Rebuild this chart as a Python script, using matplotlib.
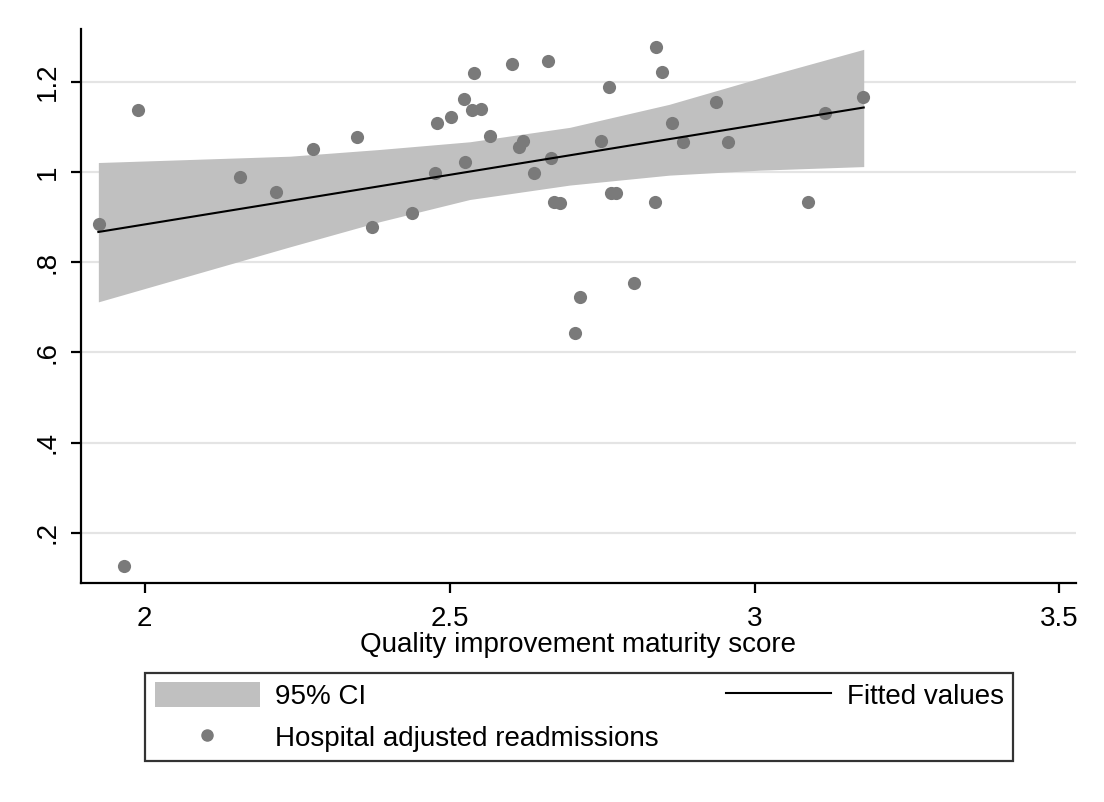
import numpy as np
import matplotlib
matplotlib.use('Agg')
import matplotlib.pyplot as plt
from matplotlib.patches import Patch
from matplotlib.lines import Line2D

plt.rcParams['font.family'] = ['Liberation Sans', 'DejaVu Sans']

# hospital scores
qi_score = [1.925, 1.966, 1.989, 2.157, 2.216, 2.276, 2.348, 2.372, 2.438, 2.476,
            2.480, 2.502, 2.523, 2.525, 2.537, 2.540, 2.551, 2.566, 2.602, 2.613,
            2.621, 2.639, 2.661, 2.667, 2.671, 2.681, 2.706, 2.714, 2.748, 2.762,
            2.765, 2.773, 2.803, 2.836, 2.838, 2.848, 2.864, 2.882, 2.937, 2.957,
            3.087, 3.115, 3.177]
readmit = [0.884, 0.127, 1.137, 0.990, 0.956, 1.051, 1.078, 0.878, 0.908, 0.998,
           1.109, 1.122, 1.162, 1.023, 1.137, 1.219, 1.139, 1.080, 1.240, 1.056,
           1.068, 0.998, 1.247, 1.032, 0.934, 0.932, 0.643, 0.723, 1.068, 1.189,
           0.954, 0.954, 0.754, 0.933, 1.278, 1.222, 1.108, 1.067, 1.156, 1.067,
           0.934, 1.130, 1.167]

# fitted line and 95% CI band
fit_x = [1.924, 3.179]
fit_y = [0.867, 1.143]
ci_x = [1.924, 2.238, 2.386, 2.533, 2.697, 2.860, 3.008, 3.179]
ci_hi = [1.021, 1.035, 1.050, 1.067, 1.099, 1.150, 1.208, 1.272]
ci_lo = [0.712, 0.834, 0.890, 0.939, 0.971, 0.993, 1.004, 1.012]

xticks = [2, 2.5, 3, 3.5]
xticklabels = ['2', '2.5', '3', '3.5']
yticks = [0.2, 0.4, 0.6, 0.8, 1.0, 1.2]
yticklabels = ['.2', '.4', '.6', '.8', '1', '1.2']

fig = plt.figure(figsize=(11.04, 8.02), dpi=100)
ax = fig.add_axes([0.0734, 0.273, 0.9012, 0.6908])

ci_col = '#c0c0c0'
dot_col = '#7a7a7a'

ax.fill_between(ci_x, ci_lo, ci_hi, color=ci_col, lw=0, zorder=2)
ax.scatter(qi_score, readmit, s=90, color=dot_col, lw=0, zorder=3)
ax.plot(fit_x, fit_y, color='black', lw=1.5, zorder=4)

ax.set_xlim(1.8956, 3.527)
ax.set_ylim(0.0885, 1.317)
ax.set_xticks(xticks)
ax.set_xticklabels(xticklabels)
ax.set_yticks(yticks)
ax.set_yticklabels(yticklabels, rotation=90, va='center')
ax.grid(axis='y', color='#e4e4e4', lw=1.6, zorder=0)
ax.set_axisbelow(True)

for s in ['top', 'right']:
    ax.spines[s].set_visible(False)
for s in ['left', 'bottom']:
    ax.spines[s].set_linewidth(1.6)
ax.tick_params(axis='both', direction='out', length=7.5, width=1.6, labelsize=20)
ax.tick_params(axis='y', pad=7)
ax.tick_params(axis='x', pad=9)
ax.set_xlabel('Quality improvement maturity score', fontsize=20, labelpad=0)

handles = [Patch(facecolor=ci_col, edgecolor='none'),
           Line2D([], [], ls='none', marker='o', ms=8, color=dot_col),
           Line2D([], [], color='black', lw=1.5)]
labels = ['95% CI', 'Hospital adjusted readmissions', 'Fitted values']
leg = fig.legend(handles, labels, ncol=2, loc='center', bbox_to_anchor=(0.5245, 0.106),
                 fontsize=20, frameon=True, fancybox=False, handlelength=3.8,
                 handleheight=1.0, handletextpad=0.55, columnspacing=2.4,
                 labelspacing=0.48, borderpad=0.35)
leg.get_frame().set_edgecolor('black')
leg.get_frame().set_linewidth(1.6)

fig.savefig('out.png', dpi=100)
